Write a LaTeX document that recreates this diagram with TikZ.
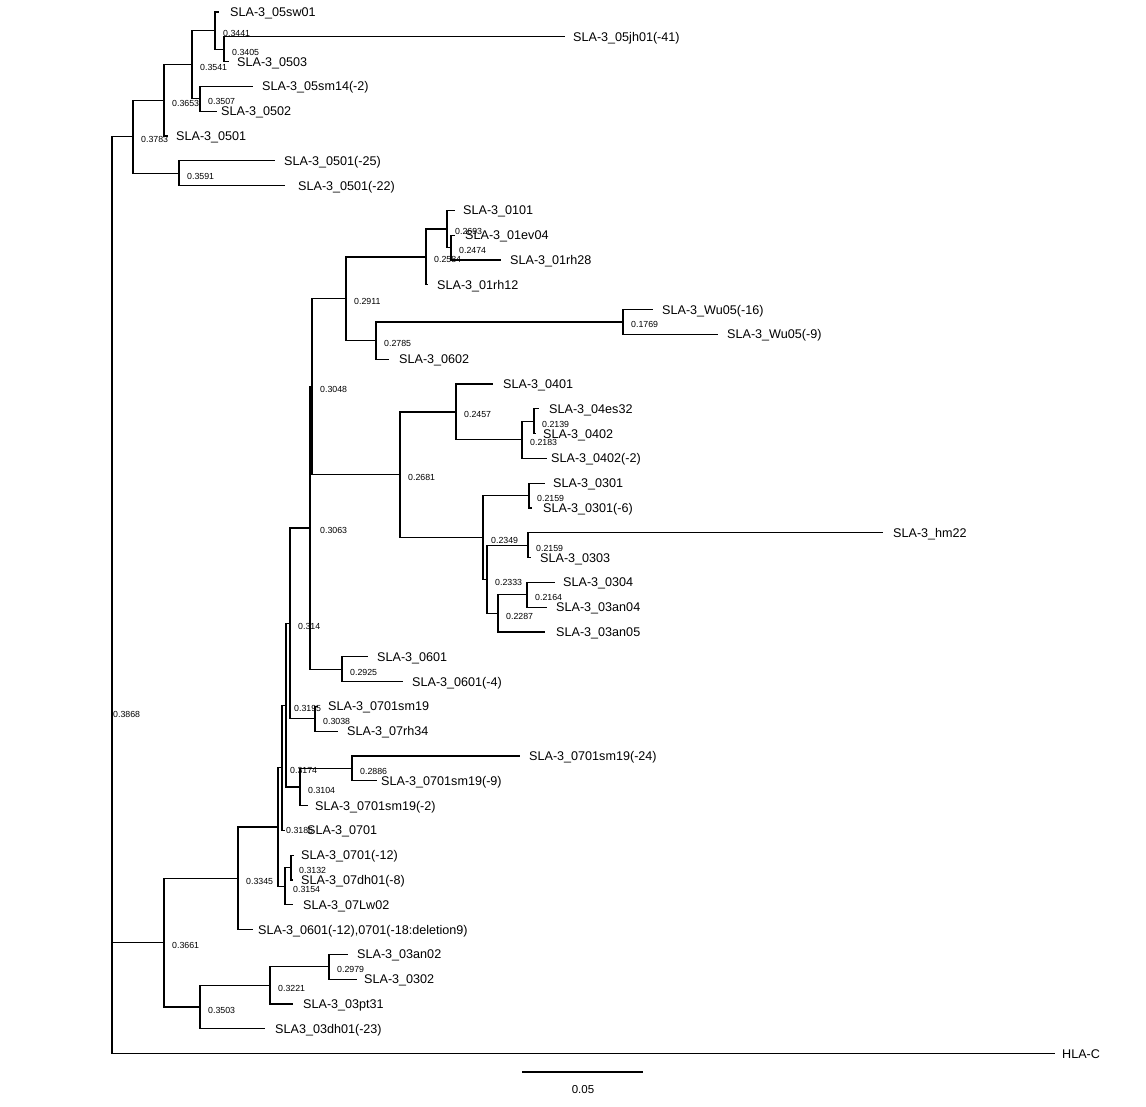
\documentclass[tikz,border=0pt]{standalone}
\usepackage{fontspec}
\setmainfont{Liberation Sans}
\newcommand{\myleaf}[5]{%
  \coordinate (#1) at (#2,{12+24.8*(#3-1)});
  \node[lf] (#1t) at (#4,{12+24.8*(#3-1)}) {#5};}
\begin{document}
\begin{tikzpicture}[x=1pt,y=-1pt,
  br/.style={line width=1.35pt},
  lf/.style={font=\fontsize{12.6}{12.6}\selectfont, inner sep=0pt, anchor=west, text height=9pt, text depth=0pt},
  bs/.style={font=\fontsize{8.8}{8.8}\selectfont, inner sep=0pt, anchor=west, text height=6pt, text depth=0pt}]
\useasboundingbox (0,0) rectangle (1146,1107);
% ---------- leaves ----------
\myleaf{l1}{219}{1}{230}{SLA-3\_05sw01}
\myleaf{l2}{565}{2}{573}{SLA-3\_05jh01(-41)}
\myleaf{l3}{229}{3}{237}{SLA-3\_0503}
\myleaf{l4}{253}{4}{262}{SLA-3\_05sm14(-2)}
\myleaf{l5}{217}{5}{221}{SLA-3\_0502}
\myleaf{l6}{168}{6}{176}{SLA-3\_0501}
\myleaf{l7}{275}{7}{284}{SLA-3\_0501(-25)}
\myleaf{l8}{285}{8}{298}{SLA-3\_0501(-22)}
\myleaf{l9}{455}{9}{463}{SLA-3\_0101}
\myleaf{l10}{455}{10}{465}{SLA-3\_01ev04}
\myleaf{l11}{501}{11}{510}{SLA-3\_01rh28}
\myleaf{l12}{428}{12}{437}{SLA-3\_01rh12}
\myleaf{l13}{653}{13}{662}{SLA-3\_Wu05(-16)}
\myleaf{l14}{718}{14}{727}{SLA-3\_Wu05(-9)}
\myleaf{l15}{389}{15}{399}{SLA-3\_0602}
\myleaf{l16}{493}{16}{503}{SLA-3\_0401}
\myleaf{l17}{539}{17}{549}{SLA-3\_04es32}
\myleaf{l18}{536}{18}{543}{SLA-3\_0402}
\myleaf{l19}{547}{19}{551}{SLA-3\_0402(-2)}
\myleaf{l20}{545}{20}{553}{SLA-3\_0301}
\myleaf{l21}{532}{21}{543}{SLA-3\_0301(-6)}
\myleaf{l22}{883}{22}{893}{SLA-3\_hm22}
\myleaf{l23}{531}{23}{540}{SLA-3\_0303}
\myleaf{l24}{555}{24}{563}{SLA-3\_0304}
\myleaf{l25}{547}{25}{556}{SLA-3\_03an04}
\myleaf{l26}{545}{26}{556}{SLA-3\_03an05}
\myleaf{l27}{368}{27}{377}{SLA-3\_0601}
\myleaf{l28}{403}{28}{412}{SLA-3\_0601(-4)}
\myleaf{l29}{318}{29}{328}{SLA-3\_0701sm19}
\myleaf{l30}{338}{30}{347}{SLA-3\_07rh34}
\myleaf{l31}{520}{31}{529}{SLA-3\_0701sm19(-24)}
\myleaf{l32}{377}{32}{381}{SLA-3\_0701sm19(-9)}
\myleaf{l33}{308}{33}{315}{SLA-3\_0701sm19(-2)}
\myleaf{l34}{285}{34}{307}{SLA-3\_0701}
\myleaf{l35}{294}{35}{301}{SLA-3\_0701(-12)}
\myleaf{l36}{293}{36}{301}{SLA-3\_07dh01(-8)}
\myleaf{l37}{293}{37}{303}{SLA-3\_07Lw02}
\myleaf{l38}{253}{38}{258}{SLA-3\_0601(-12),0701(-18:deletion9)}
\myleaf{l39}{348}{39}{357}{SLA-3\_03an02}
\myleaf{l40}{357}{40}{364}{SLA-3\_0302}
\myleaf{l41}{293}{41}{303}{SLA-3\_03pt31}
\myleaf{l42}{265}{42}{275}{SLA3\_03dh01(-23)}
\myleaf{l43}{1055}{43}{1062}{HLA-C}
% ---------- internal nodes ----------
\coordinate (R) at (112,594);
\coordinate (A) at (133,136.8);
\coordinate (A1) at (164,100.35);
\coordinate (A11) at (192,64.7);
\coordinate (A111) at (215,30.6);
\coordinate (A1111) at (224,49.2);
\coordinate (A112) at (200,98.8);
\coordinate (A2) at (179,173.2);
\coordinate (B) at (164,942.7);
\coordinate (B1) at (238,878.3);
\coordinate (F) at (278,827);
\coordinate (E) at (282,767.8);
\coordinate (D) at (286,705.2);
\coordinate (C) at (290,623.4);
\coordinate (P3) at (310,527.95);
\coordinate (P2) at (312,386.7);
\coordinate (K) at (346,298.75);
\coordinate (K1) at (426,256.9);
\coordinate (K11) at (447,229);
\coordinate (K111) at (451,247.6);
\coordinate (K2) at (376,340.6);
\coordinate (K21) at (623,322);
\coordinate (L) at (400,474.7);
\coordinate (M) at (456,411.9);
\coordinate (N) at (522,439.8);
\coordinate (N1) at (534,421.2);
\coordinate (O) at (483,537.45);
\coordinate (O1) at (529,495.6);
\coordinate (O2) at (487,579.3);
\coordinate (O21) at (528,545.2);
\coordinate (O22) at (498,613.4);
\coordinate (O221) at (527,594.8);
\coordinate (Q) at (342,669.2);
\coordinate (I) at (315,718.8);
\coordinate (H) at (300,787);
\coordinate (J) at (352,768.4);
\coordinate (G) at (285,886.2);
\coordinate (G1) at (291,867.6);
\coordinate (B2) at (200,1007.1);
\coordinate (B21) at (270,985.4);
\coordinate (B211) at (329,966.8);
% ---------- branches ----------
\foreach \p/\c in {R/A,R/B,R/l43,
  A/A1,A/A2,A1/A11,A1/l6,A11/A111,A11/A112,A111/l1,A111/A1111,A1111/l2,A1111/l3,A112/l4,A112/l5,A2/l7,A2/l8,
  B/B1,B/B2,B1/F,B1/l38,F/E,F/G,E/D,E/l34,D/C,D/H,C/P3,C/I,P3/P2,P3/Q,P2/K,P2/L,
  K/K1,K/K2,K1/K11,K1/l12,K11/l9,K11/K111,K111/l10,K111/l11,K2/K21,K2/l15,K21/l13,K21/l14,
  L/M,L/O,M/l16,M/N,N/N1,N/l19,N1/l17,N1/l18,
  O/O1,O/O2,O1/l20,O1/l21,O2/O21,O2/O22,O21/l22,O21/l23,O22/O221,O22/l26,O221/l24,O221/l25,
  Q/l27,Q/l28,I/l29,I/l30,H/J,H/l33,J/l31,J/l32,G/G1,G/l37,G1/l35,G1/l36,
  B2/B21,B2/l42,B21/B211,B21/l41,B211/l39,B211/l40}
  {\draw[br] (\p) |- (\c);}
% ---------- node values ----------
\foreach \n/\v in {A/0.3783,A1/0.3653,A11/0.3541,A111/0.3441,A1111/0.3405,A112/0.3507,A2/0.3591,
  B/0.3661,B1/0.3345,F/0.3186,E/0.3174,D/0.3195,C/0.314,P2/0.3048,
  K/0.2911,K1/0.2584,K11/0.2693,K111/0.2474,K2/0.2785,K21/0.1769,
  L/0.2681,M/0.2457,N/0.2183,N1/0.2139,O/0.2349,O1/0.2159,O2/0.2333,O21/0.2159,O22/0.2287,O221/0.2164,
  Q/0.2925,I/0.3038,H/0.3104,J/0.2886,G/0.3154,G1/0.3132,B2/0.3503,B21/0.3221,B211/0.2979}
  {\node[bs] (v\n) at ([shift={(8,3)}]\n) {\v};}
\node[bs] (vP3) at ([shift={(10,3)}]P3) {0.3063};
\node[bs] (vR) at (113,714) {0.3868};
% ---------- scale bar ----------
\coordinate (sb1) at (522,1072);
\coordinate (sb2) at (643,1072);
\draw[line width=1.6pt] (sb1) -- (sb2);
\node[font=\fontsize{11.5}{11.5}\selectfont, inner sep=0pt] (sbl) at (583,1090) {0.05};
\end{tikzpicture}
\end{document}
